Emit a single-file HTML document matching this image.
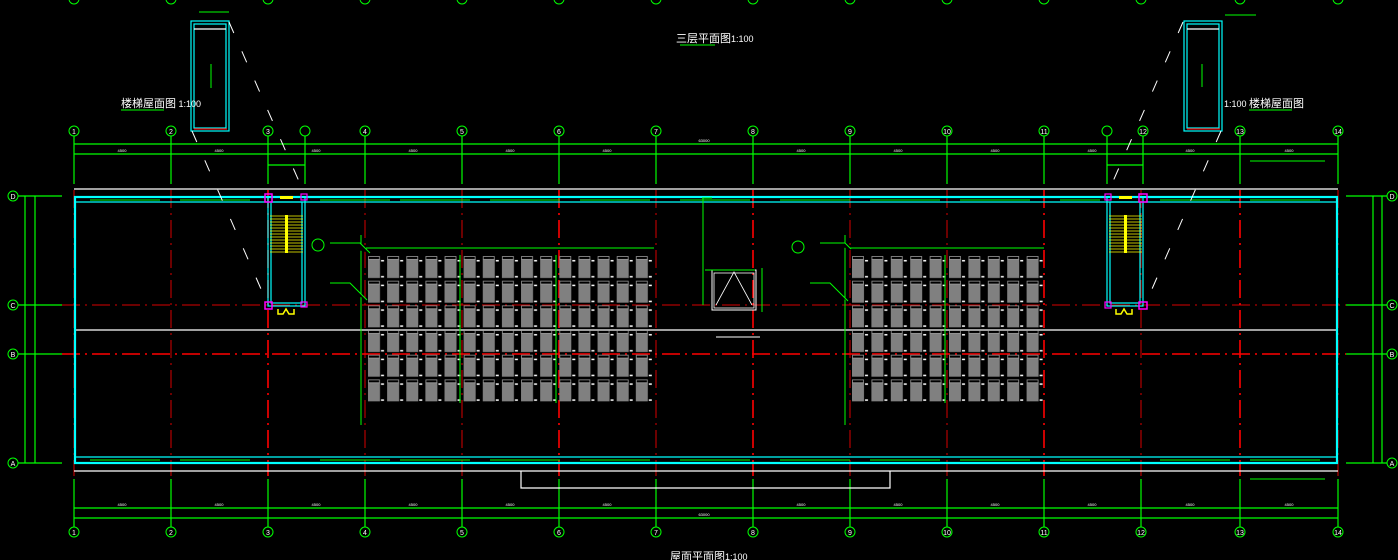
<!DOCTYPE html>
<html><head><meta charset="utf-8"><style>
html,body{margin:0;padding:0;background:#000;width:1398px;height:560px;overflow:hidden}
svg{display:block}
text{font-family:"Liberation Sans","Noto Sans CJK SC",sans-serif}
</style></head><body>
<svg width="1398" height="560" viewBox="0 0 1398 560" xmlns="http://www.w3.org/2000/svg">
<defs>
<pattern id="pv" x="367" y="255" width="19.13" height="24.67" patternUnits="userSpaceOnUse">
<rect x="1" y="4" width="12" height="19" fill="#808080"/>
<rect x="1.5" y="1.5" width="11" height="3" fill="none" stroke="#999" stroke-width="0.8"/>
<rect x="14" y="5" width="3" height="1.5" fill="#fff"/><rect x="14" y="21" width="3" height="1.5" fill="#fff"/>
</pattern>
<pattern id="pv2" x="851" y="255" width="19.4" height="24.67" patternUnits="userSpaceOnUse">
<rect x="1" y="4" width="12" height="19" fill="#808080"/>
<rect x="1.5" y="1.5" width="11" height="3" fill="none" stroke="#999" stroke-width="0.8"/>
<rect x="14" y="5" width="3" height="1.5" fill="#fff"/><rect x="14" y="21" width="3" height="1.5" fill="#fff"/>
</pattern>
</defs>

<!-- top dimension lines -->
<g stroke="#0f0" stroke-width="1.2">
<line x1="74" y1="144" x2="1338" y2="144"/><line x1="74" y1="154" x2="1338" y2="154"/>
<line x1="74" y1="508" x2="1338" y2="508"/><line x1="74" y1="518" x2="1338" y2="518"/>
<line x1="25" y1="196" x2="25" y2="463"/><line x1="35" y1="196" x2="35" y2="463"/>
<line x1="1373" y1="196" x2="1373" y2="463"/><line x1="1382" y1="196" x2="1382" y2="463"/>
<line x1="268" y1="165" x2="305" y2="165"/><line x1="1107" y1="165" x2="1143" y2="165"/>
<!-- grid stubs top -->
<line x1="74" y1="136" x2="74" y2="184"/><line x1="171" y1="136" x2="171" y2="184"/><line x1="268" y1="136" x2="268" y2="184"/><line x1="305" y1="136" x2="305" y2="184"/><line x1="365" y1="136" x2="365" y2="184"/><line x1="462" y1="136" x2="462" y2="184"/><line x1="559" y1="136" x2="559" y2="184"/><line x1="656" y1="136" x2="656" y2="184"/><line x1="753" y1="136" x2="753" y2="184"/><line x1="850" y1="136" x2="850" y2="184"/><line x1="947" y1="136" x2="947" y2="184"/><line x1="1044" y1="136" x2="1044" y2="184"/><line x1="1107" y1="136" x2="1107" y2="184"/><line x1="1143" y1="136" x2="1143" y2="184"/><line x1="1240" y1="136" x2="1240" y2="184"/><line x1="1338" y1="136" x2="1338" y2="184"/>
<!-- grid stubs bottom -->
<line x1="74" y1="479" x2="74" y2="527"/><line x1="171" y1="479" x2="171" y2="527"/><line x1="268" y1="479" x2="268" y2="527"/><line x1="365" y1="479" x2="365" y2="527"/><line x1="462" y1="479" x2="462" y2="527"/><line x1="559" y1="479" x2="559" y2="527"/><line x1="656" y1="479" x2="656" y2="527"/><line x1="753" y1="479" x2="753" y2="527"/><line x1="850" y1="479" x2="850" y2="527"/><line x1="947" y1="479" x2="947" y2="527"/><line x1="1044" y1="479" x2="1044" y2="527"/><line x1="1141" y1="479" x2="1141" y2="527"/><line x1="1240" y1="479" x2="1240" y2="527"/><line x1="1338" y1="479" x2="1338" y2="527"/>
<!-- axis stubs -->
<line x1="18" y1="196" x2="62" y2="196"/><line x1="18" y1="305" x2="62" y2="305"/><line x1="18" y1="354" x2="62" y2="354"/><line x1="18" y1="463" x2="62" y2="463"/>
<line x1="1346" y1="196" x2="1387" y2="196"/><line x1="1346" y1="305" x2="1387" y2="305"/><line x1="1346" y1="354" x2="1387" y2="354"/><line x1="1346" y1="463" x2="1387" y2="463"/>
</g>

<!-- red dashed grids -->
<g stroke="#f00" stroke-width="1" stroke-dasharray="18,5,2,5" opacity="0.85">
<line x1="74" y1="190" x2="74" y2="476"/><line x1="171" y1="190" x2="171" y2="476"/><line x1="365" y1="190" x2="365" y2="476"/><line x1="462" y1="190" x2="462" y2="476"/><line x1="656" y1="190" x2="656" y2="476"/><line x1="850" y1="190" x2="850" y2="476"/><line x1="947" y1="190" x2="947" y2="476"/><line x1="1141" y1="190" x2="1141" y2="476"/><line x1="1338" y1="190" x2="1338" y2="476"/>
<line x1="62" y1="305" x2="1346" y2="305"/>
</g>
<g stroke="#f00" stroke-width="1.6" stroke-dasharray="18,5,2,5">
<line x1="268" y1="190" x2="268" y2="476"/><line x1="559" y1="190" x2="559" y2="476"/><line x1="753" y1="190" x2="753" y2="476"/><line x1="1044" y1="190" x2="1044" y2="476"/><line x1="1240" y1="190" x2="1240" y2="476"/>
<line x1="62" y1="354" x2="1346" y2="354"/>
</g>

<!-- white lines -->
<g stroke="#fff" stroke-width="1.2" fill="none">
<line x1="74" y1="189" x2="1338" y2="189"/><line x1="74" y1="330" x2="1338" y2="330"/><line x1="74" y1="471" x2="1338" y2="471"/>
<polyline points="521,471 521,488 890,488 890,471"/>
</g>

<!-- cyan outline -->
<g stroke="#0ff" fill="none">
<rect x="75" y="197" width="1262" height="266" stroke-width="2.2"/>
<line x1="75" y1="202" x2="1337" y2="202" stroke-width="1.2"/>
<line x1="75" y1="457" x2="1337" y2="457" stroke-width="1.2"/>
</g>
<!-- green gutter dashes -->
<g stroke="#0f0" stroke-width="1">
<path d="M90 200h70M180 200h70M320 200h70M400 200h70M490 200h70M580 200h70M680 200h70M780 200h70M870 200h70M960 200h70M1060 200h40M1160 200h70M1250 200h70"/>
<path d="M90 460h70M180 460h70M320 460h70M400 460h70M490 460h70M580 460h70M680 460h70M780 460h70M870 460h70M960 460h70M1060 460h70M1160 460h70M1250 460h70"/>
<line x1="361" y1="235" x2="361" y2="425"/><line x1="845" y1="235" x2="845" y2="425"/>
<line x1="703" y1="198" x2="703" y2="305"/><line x1="702" y1="198" x2="712" y2="198"/>
</g>

<!-- solar panels -->
<rect x="367" y="255" width="287" height="148" fill="url(#pv)"/>
<rect x="851" y="255" width="194" height="148" fill="url(#pv2)"/>
<g stroke="#0f0" stroke-width="1">
<line x1="366" y1="248" x2="654" y2="248"/><line x1="850" y1="248" x2="1044" y2="248"/>
<line x1="460" y1="255" x2="460" y2="403"/><line x1="556" y1="255" x2="556" y2="403"/><line x1="945" y1="255" x2="945" y2="403"/>
<path d="M330 243h30l10 10M330 283h20l17 17M820 243h25l6 6M810 283h20l18 18"/>
</g>
<g fill="#0f0"><circle cx="318" cy="245" r="6" fill="none" stroke="#0f0"/><circle cx="798" cy="247" r="6" fill="none" stroke="#0f0"/></g>

<!-- center box -->
<g fill="none">
<rect x="712" y="270" width="44" height="40" stroke="#fff" stroke-width="1"/>
<rect x="714" y="273" width="40" height="35" stroke="#fff" stroke-width="0.8"/>
<path d="M716 305 L734 272 L752 305" stroke="#fff" stroke-width="0.8"/>
<line x1="705" y1="270" x2="755" y2="270" stroke="#0f0"/>
<line x1="762" y1="268" x2="762" y2="312" stroke="#0f0"/>
<line x1="716" y1="337" x2="760" y2="337" stroke="#fff"/>
</g>

<!-- stairs -->
<g fill="none" stroke-width="1.2">
<rect x="268" y="197" width="37" height="109" stroke="#0ff"/>
<rect x="271" y="202" width="31" height="101" stroke="#0ff"/>
<rect x="1107" y="197" width="36" height="109" stroke="#0ff"/>
<rect x="1110" y="202" width="30" height="101" stroke="#0ff"/>
<rect x="265" y="194" width="7" height="8" stroke="#f0f" stroke-width="1.5"/>
<rect x="301" y="194" width="6" height="6" stroke="#f0f"/>
<rect x="265" y="302" width="7" height="7" stroke="#f0f" stroke-width="1.5"/>
<rect x="301" y="302" width="6" height="5" stroke="#f0f"/>
<rect x="1105" y="194" width="6" height="6" stroke="#f0f"/>
<rect x="1139" y="194" width="8" height="8" stroke="#f0f" stroke-width="1.5"/>
<rect x="1105" y="302" width="6" height="6" stroke="#f0f"/>
<rect x="1139" y="302" width="8" height="7" stroke="#f0f" stroke-width="1.5"/>
<path d="M278 309v5h5l3-5 3 5h5v-5" stroke="#ff0" stroke-width="1.5"/>
<path d="M1116 309v5h5l3-5 3 5h5v-5" stroke="#ff0" stroke-width="1.5"/>
</g>
<g stroke="#ff0" stroke-width="0.8">
<path d="M270 216h33M270 219h33M270 222h33M270 225h33M270 228h33M270 231h33M270 234h33M270 237h33M270 240h33M270 243h33M270 246h33M270 249h33M270 252h33"/>
<path d="M1109 216h33M1109 219h33M1109 222h33M1109 225h33M1109 228h33M1109 231h33M1109 234h33M1109 237h33M1109 240h33M1109 243h33M1109 246h33M1109 249h33M1109 252h33"/>
</g>
<rect x="285" y="215" width="3" height="38" fill="#ff0"/><rect x="1124" y="215" width="3" height="38" fill="#ff0"/>
<rect x="280" y="196" width="13" height="3" fill="#ff0"/><rect x="1119" y="196" width="13" height="3" fill="#ff0"/>

<!-- inset plans -->
<g fill="none" stroke-width="1.2">
<rect x="191" y="21" width="38" height="110" stroke="#0ff"/>
<rect x="194" y="24" width="32" height="104" stroke="#0ff"/>
<line x1="194" y1="29" x2="226" y2="29" stroke="#fff"/>
<line x1="194" y1="129" x2="227" y2="129" stroke="#f00"/>
<rect x="1184" y="21" width="38" height="110" stroke="#0ff"/>
<rect x="1187" y="24" width="32" height="104" stroke="#0ff"/>
<line x1="1187" y1="29" x2="1219" y2="29" stroke="#fff"/>
<line x1="1187" y1="129" x2="1220" y2="129" stroke="#f00"/>
</g>
<g stroke="#0f0"><line x1="211" y1="64" x2="211" y2="88"/><line x1="1202" y1="64" x2="1202" y2="87"/><line x1="199" y1="12" x2="229" y2="12"/><line x1="1225" y1="15" x2="1256" y2="15"/><line x1="121" y1="110" x2="164" y2="110"/><line x1="1249" y1="110" x2="1292" y2="110"/>
<line x1="680" y1="45" x2="715" y2="45"/><line x1="1250" y1="161" x2="1325" y2="161"/><line x1="1250" y1="479" x2="1325" y2="479"/></g>
<!-- dashed diagonals -->
<g stroke="#fff" stroke-width="1" stroke-dasharray="12,20">
<line x1="229" y1="22" x2="305" y2="195"/><line x1="192" y1="131" x2="268" y2="305"/>
<line x1="1183" y1="22" x2="1107" y2="195"/><line x1="1221" y1="131" x2="1145" y2="305"/>
</g>

<!-- titles -->
<text x="676" y="42" fill="#fff" font-size="11">三层平面图<tspan font-size="9">1:100</tspan></text>
<text x="121" y="107" fill="#fff" font-size="11">楼梯屋面图<tspan font-size="9"> 1:100</tspan></text>
<text x="1224" y="107" fill="#fff" font-size="9">1:100 <tspan font-size="11">楼梯屋面图</tspan></text>
<text x="670" y="560" fill="#fff" font-size="11">屋面平面图<tspan font-size="9">1:100</tspan></text>

<!-- grid circles -->
<g fill="none" stroke="#0f0" stroke-width="1">
<circle cx="74" cy="131" r="5"/><circle cx="171" cy="131" r="5"/><circle cx="268" cy="131" r="5"/><circle cx="305" cy="131" r="5"/><circle cx="365" cy="131" r="5"/><circle cx="462" cy="131" r="5"/><circle cx="559" cy="131" r="5"/><circle cx="656" cy="131" r="5"/><circle cx="753" cy="131" r="5"/><circle cx="850" cy="131" r="5"/><circle cx="947" cy="131" r="5"/><circle cx="1044" cy="131" r="5"/><circle cx="1107" cy="131" r="5"/><circle cx="1143" cy="131" r="5"/><circle cx="1240" cy="131" r="5"/><circle cx="1338" cy="131" r="5"/>
<circle cx="74" cy="532" r="5"/><circle cx="171" cy="532" r="5"/><circle cx="268" cy="532" r="5"/><circle cx="365" cy="532" r="5"/><circle cx="462" cy="532" r="5"/><circle cx="559" cy="532" r="5"/><circle cx="656" cy="532" r="5"/><circle cx="753" cy="532" r="5"/><circle cx="850" cy="532" r="5"/><circle cx="947" cy="532" r="5"/><circle cx="1044" cy="532" r="5"/><circle cx="1141" cy="532" r="5"/><circle cx="1240" cy="532" r="5"/><circle cx="1338" cy="532" r="5"/>
<circle cx="13" cy="196" r="5"/><circle cx="13" cy="305" r="5"/><circle cx="13" cy="354" r="5"/><circle cx="13" cy="463" r="5"/>
<circle cx="1392" cy="196" r="5"/><circle cx="1392" cy="305" r="5"/><circle cx="1392" cy="354" r="5"/><circle cx="1392" cy="463" r="5"/>
<circle cx="74" cy="-1" r="5"/><circle cx="171" cy="-1" r="5"/><circle cx="268" cy="-1" r="5"/><circle cx="365" cy="-1" r="5"/><circle cx="462" cy="-1" r="5"/><circle cx="559" cy="-1" r="5"/><circle cx="656" cy="-1" r="5"/><circle cx="753" cy="-1" r="5"/><circle cx="850" cy="-1" r="5"/><circle cx="947" cy="-1" r="5"/><circle cx="1044" cy="-1" r="5"/><circle cx="1141" cy="-1" r="5"/><circle cx="1240" cy="-1" r="5"/><circle cx="1338" cy="-1" r="5"/>
</g>
<g fill="#fff" font-size="7" text-anchor="middle">
<text x="74" y="134">1</text><text x="171" y="134">2</text><text x="268" y="134">3</text><text x="365" y="134">4</text><text x="462" y="134">5</text><text x="559" y="134">6</text><text x="656" y="134">7</text><text x="753" y="134">8</text><text x="850" y="134">9</text><text x="947" y="134">10</text><text x="1044" y="134">11</text><text x="1143" y="134">12</text><text x="1240" y="134">13</text><text x="1338" y="134">14</text>
<text x="74" y="535">1</text><text x="171" y="535">2</text><text x="268" y="535">3</text><text x="365" y="535">4</text><text x="462" y="535">5</text><text x="559" y="535">6</text><text x="656" y="535">7</text><text x="753" y="535">8</text><text x="850" y="535">9</text><text x="947" y="535">10</text><text x="1044" y="535">11</text><text x="1141" y="535">12</text><text x="1240" y="535">13</text><text x="1338" y="535">14</text>
<text x="13" y="199">D</text><text x="13" y="308">C</text><text x="13" y="357">B</text><text x="13" y="466">A</text>
<text x="1392" y="199">D</text><text x="1392" y="308">C</text><text x="1392" y="357">B</text><text x="1392" y="466">A</text>
</g>
<!-- dim labels -->
<g fill="#fff" font-size="4" text-anchor="middle">
<text x="122" y="152">4500</text><text x="219" y="152">4500</text><text x="316" y="152">4500</text><text x="413" y="152">4500</text><text x="510" y="152">4500</text><text x="607" y="152">4500</text><text x="704" y="142">63000</text><text x="801" y="152">4500</text><text x="898" y="152">4500</text><text x="995" y="152">4500</text><text x="1092" y="152">4500</text><text x="1190" y="152">4500</text><text x="1289" y="152">4500</text>
<text x="122" y="506">4500</text><text x="219" y="506">4500</text><text x="316" y="506">4500</text><text x="413" y="506">4500</text><text x="510" y="506">4500</text><text x="607" y="506">4500</text><text x="704" y="516">63000</text><text x="801" y="506">4500</text><text x="898" y="506">4500</text><text x="995" y="506">4500</text><text x="1092" y="506">4500</text><text x="1190" y="506">4500</text><text x="1289" y="506">4500</text>
</g>
</svg>
</body></html>
